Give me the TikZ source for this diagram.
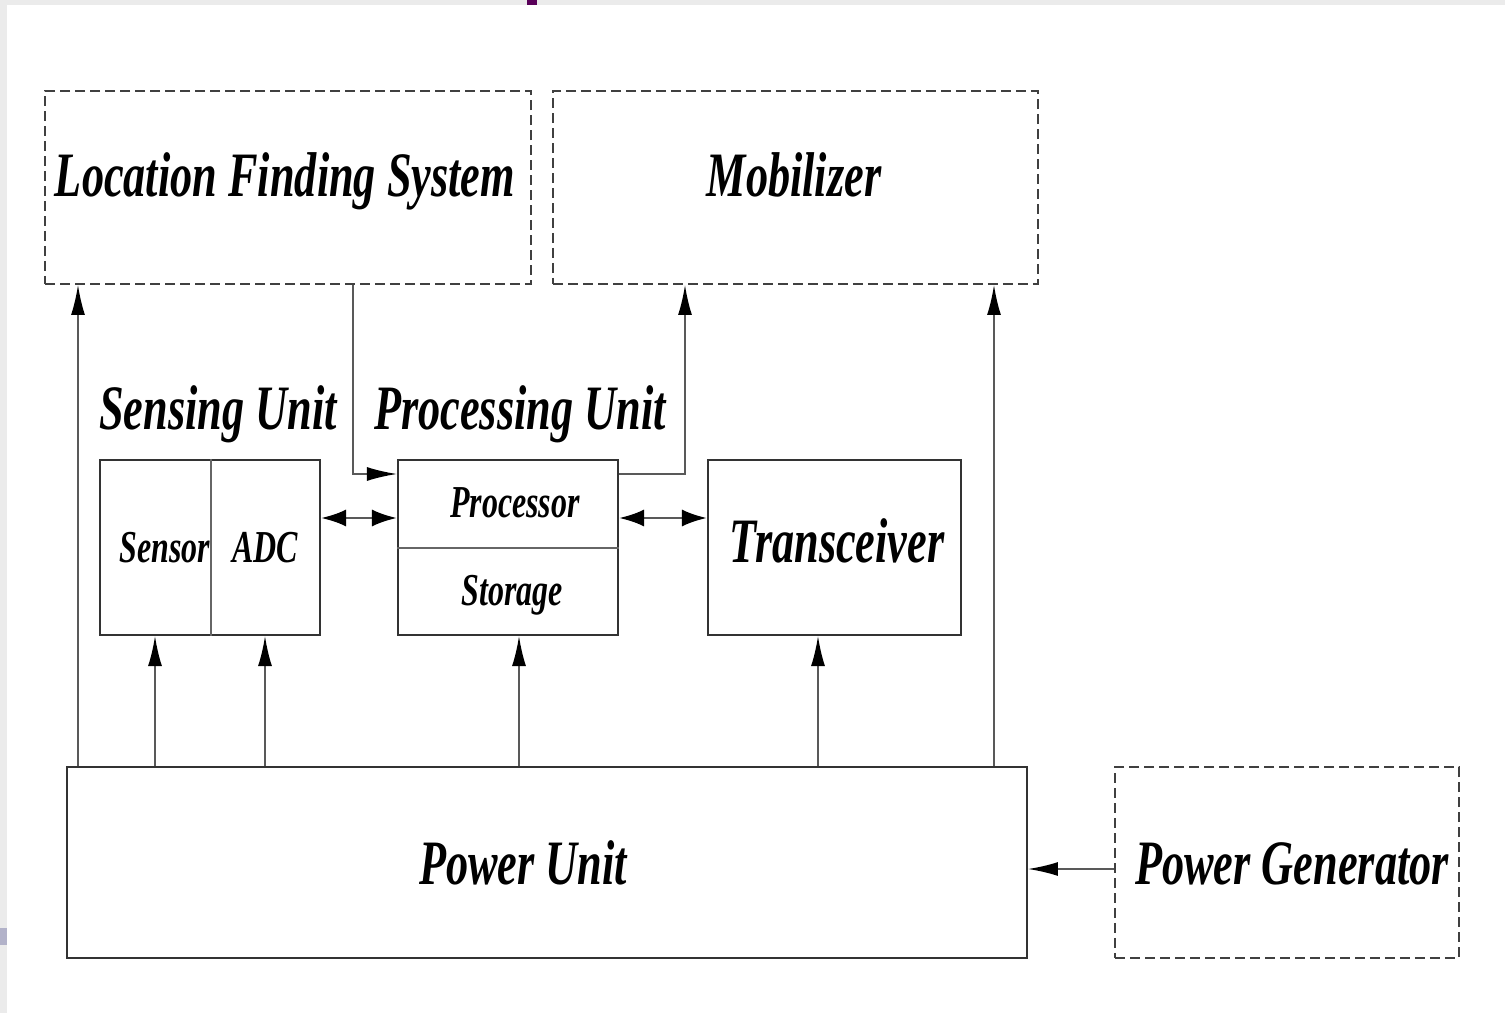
\documentclass[tikz,border=0pt]{standalone}
\usepackage{fontspec}
\setmainfont{Liberation Serif}
\usetikzlibrary{arrows.meta}
\newcommand{\cnd}[1]{\scalebox{0.70}[1]{\bfseries\itshape #1}}
\begin{document}
\begin{tikzpicture}[x=0.02cm,y=-0.02cm,
  box/.style={draw=black!80,line width=1.2pt,inner sep=0pt},
  dbox/.style={draw=black!75,line width=1.1pt,dash pattern=on 0.2cm off 0.1cm,inner sep=0pt},
  ln/.style={draw=black!65,line width=1pt},
  tip/.style={-{Latex[length=0.6cm,width=0.28cm,color=black]}},
  dtip/.style={{Latex[length=0.5cm,width=0.34cm,color=black]}-{Latex[length=0.5cm,width=0.34cm,color=black]}},
  big/.style={font=\fontsize{36}{40}\selectfont,anchor=base,inner sep=0pt},
  small/.style={font=\fontsize{26}{30}\selectfont,anchor=base,inner sep=0pt}]
\useasboundingbox (0,0) rectangle (1505,1013);
% slide background
\fill[black!8] (0,0) rectangle (1505,1013);
\fill[white] (7,5) rectangle (1505,1013);
\fill[violet!70!black] (527,0) rectangle (537,5);
\fill[blue!30!black!30] (0,928) rectangle (7,945);
% boxes
\node[dbox,minimum width=9.72cm,minimum height=3.86cm] (lfs) at (288,187.5) {};
\node[dbox,minimum width=9.7cm,minimum height=3.86cm] (mob) at (795.5,187.5) {};
\node[box,minimum width=4.4cm,minimum height=3.5cm] (su) at (210,547.5) {};
\node[box,minimum width=4.4cm,minimum height=3.5cm] (pu) at (508,547.5) {};
\node[box,minimum width=5.06cm,minimum height=3.5cm] (tr) at (834.5,547.5) {};
\node[box,minimum width=19.2cm,minimum height=3.82cm] (pw) at (547,862.5) {};
\node[dbox,minimum width=6.88cm,minimum height=3.82cm] (pg) at (1287,862.5) {};
% dividers
\coordinate (dv) at (211,0);
\coordinate (hd) at (0,548);
\draw[draw=black!60,line width=0.8pt] (su.north -| dv) -- (su.south -| dv);
\draw[draw=black!60,line width=0.8pt] (pu.west |- hd) -- (pu.east |- hd);
% texts
\node[big] (tlfs) at (285,197) {\cnd{Location Finding System}};
\node[big] (tmob) at (794,197) {\cnd{Mobilizer}};
\node[big] (tsu) at (218,430) {\cnd{Sensing Unit}};
\node[big] (tpu) at (520,430) {\cnd{Processing Unit}};
\node[small] (tproc) at (515,518) {\cnd{Processor}};
\node[small] (tsto) at (512,605) {\cnd{Storage}};
\node[small] (tsen) at (165,562) {\cnd{Sensor}};
\node[small] (tadc) at (265,562) {\cnd{ADC}};
\node[big] (ttr) at (837,562) {\cnd{Transceiver}};
\node[big] (tpw) at (523,884) {\cnd{Power Unit}};
\node[big] (tpg) at (1292,884) {\cnd{Power Generator}};
% connector columns
\coordinate (c78) at (78,0);
\coordinate (c155) at (155,0);
\coordinate (c265) at (265,0);
\coordinate (c519) at (519,0);
\coordinate (c818) at (818,0);
\coordinate (c994) at (994,0);
\coordinate (c353) at (353,0);
\coordinate (c685) at (685,0);
\coordinate (r474) at (0,474);
\coordinate (r518) at (0,518);
\coordinate (r869) at (0,869);
% power arrows
\draw[ln,tip] (pw.north -| c78) -- (lfs.south -| c78);
\draw[ln,tip] (pw.north -| c155) -- (su.south -| c155);
\draw[ln,tip] (pw.north -| c265) -- (su.south -| c265);
\draw[ln,tip] (pw.north -| c519) -- (pu.south -| c519);
\draw[ln,tip] (pw.north -| c818) -- (tr.south -| c818);
\draw[ln,tip] (pw.north -| c994) -- (mob.south -| c994);
% LFS -> processing
\draw[ln,tip] (lfs.south -| c353) |- (pu.west |- r474);
% processing -> mobilizer
\draw[ln,tip] (pu.east |- r474) -| (mob.south -| c685);
% double arrows
\draw[ln,line width=1.5pt,dtip] (su.east |- r518) -- (pu.west |- r518);
\draw[ln,line width=1.5pt,dtip] (pu.east |- r518) -- (tr.west |- r518);
% generator -> power unit
\draw[ln,tip] (pg.west |- r869) -- (pw.east |- r869);
\end{tikzpicture}
\end{document}
